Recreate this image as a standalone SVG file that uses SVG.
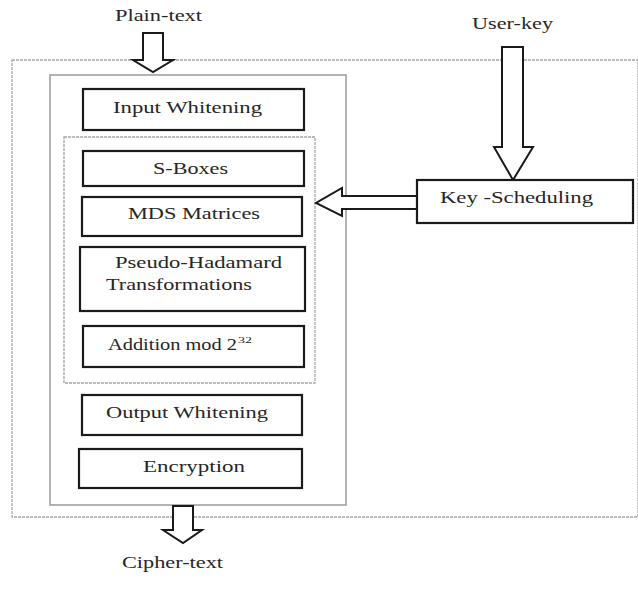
<svg xmlns="http://www.w3.org/2000/svg" width="638" height="596" viewBox="0 0 638 596">
<style>
  .frame{fill:none;stroke:#9a9a9a;stroke-width:1.5}
  .dotted{fill:none;stroke:#a5a5a5;stroke-width:1.3;stroke-dasharray:3 1}
  .box{fill:#ffffff;stroke:#1a1a1a;stroke-width:2.2}
  .arrow{fill:#ffffff;stroke:#1a1a1a;stroke-width:2;stroke-linejoin:miter}
  .t{font-family:"Liberation Serif","Times New Roman",serif;font-size:16px;fill:#262626;text-anchor:start}
</style>
<rect width="638" height="596" fill="#ffffff"/>
<g id="frames">
  <rect class="dotted" x="12" y="60" width="626" height="457"/>
  <rect class="frame" x="50" y="75" width="296" height="430"/>
  <rect class="dotted" x="64" y="137" width="251" height="246"/>
</g>
<g id="connectors">
  <path class="arrow" d="M143,33 H163 V60 H173 L153,72 L133,60 H143 Z"/>
  <path class="arrow" d="M502,47 H523 V147 H533 L513,180 L494,147 H502 Z"/>
  <path class="arrow" d="M417,196 H342 V188 L316,203 L342,216 V209 H417"/>
  <path class="arrow" d="M173,506 H193 V530 H202 L183,543 L163,530 H173 Z"/>
</g>
<g id="plain-text"><text class="t" x="115" y="21" textLength="87" lengthAdjust="spacingAndGlyphs">Plain-text</text></g>
<g id="user-key"><text class="t" x="472" y="29" textLength="81" lengthAdjust="spacingAndGlyphs">User-key</text></g>
<g id="input-whitening">
  <rect class="box" x="83" y="89" width="221" height="41"/>
  <text class="t" x="113" y="113" textLength="149" lengthAdjust="spacingAndGlyphs">Input Whitening</text>
</g>
<g id="s-boxes">
  <rect class="box" x="83" y="151" width="221" height="35"/>
  <text class="t" x="153" y="174" textLength="75" lengthAdjust="spacingAndGlyphs">S-Boxes</text>
</g>
<g id="mds-matrices">
  <rect class="box" x="82" y="197" width="220" height="39"/>
  <text class="t" x="128" y="219" textLength="132" lengthAdjust="spacingAndGlyphs">MDS Matrices</text>
</g>
<g id="pht">
  <rect class="box" x="80" y="247" width="225" height="64"/>
  <text class="t" x="115" y="268" textLength="167" lengthAdjust="spacingAndGlyphs">Pseudo-Hadamard</text>
  <text class="t" x="106" y="290" textLength="146" lengthAdjust="spacingAndGlyphs">Transformations</text>
</g>
<g id="addition">
  <rect class="box" x="83" y="326" width="221" height="41"/>
  <text class="t" x="108" y="350" textLength="129" lengthAdjust="spacingAndGlyphs">Addition mod 2</text>
  <text class="t" x="238" y="343" style="font-size:9px" textLength="14" lengthAdjust="spacingAndGlyphs">32</text>
</g>
<g id="output-whitening">
  <rect class="box" x="82" y="395" width="220" height="40"/>
  <text class="t" x="106" y="418" textLength="162" lengthAdjust="spacingAndGlyphs">Output Whitening</text>
</g>
<g id="encryption">
  <rect class="box" x="79" y="449" width="223" height="39"/>
  <text class="t" x="143" y="472" textLength="102" lengthAdjust="spacingAndGlyphs">Encryption</text>
</g>
<g id="key-scheduling">
  <rect class="box" x="417" y="180" width="216" height="43"/>
  <text class="t" x="440" y="203" textLength="153" lengthAdjust="spacingAndGlyphs">Key -Scheduling</text>
</g>
<g id="cipher-text"><text class="t" x="122" y="568" textLength="101" lengthAdjust="spacingAndGlyphs">Cipher-text</text></g>
</svg>
